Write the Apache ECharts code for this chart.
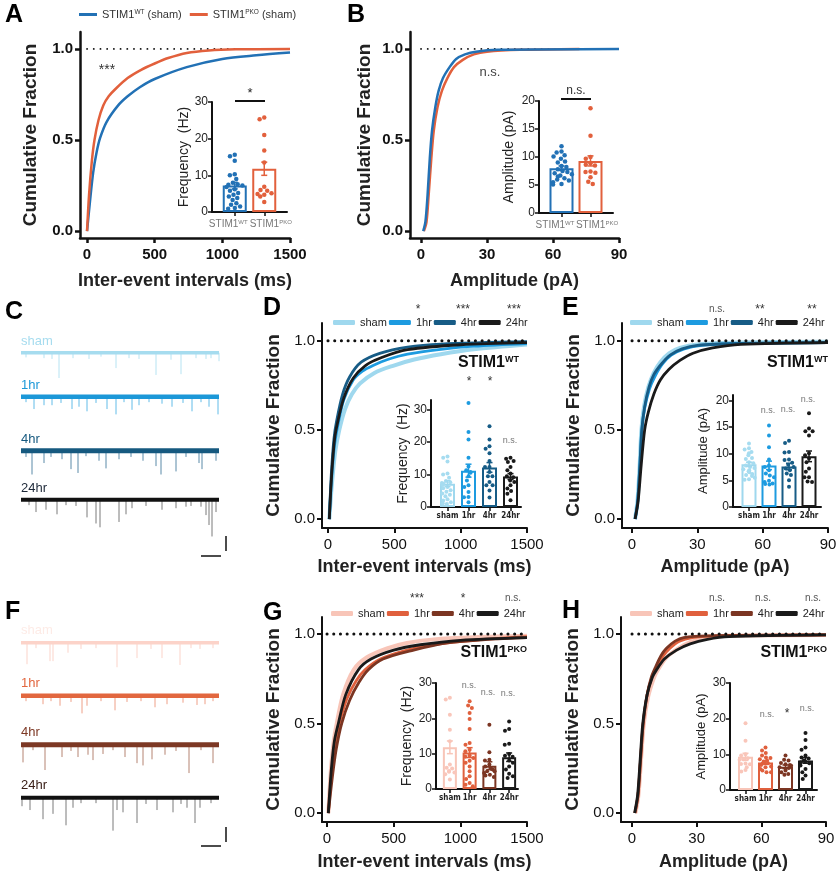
<!DOCTYPE html>
<html>
<head>
<meta charset="utf-8">
<script src="https://cdn.jsdelivr.net/npm/echarts@6/dist/echarts.min.js"></script>
<style>
html, body { margin: 0; padding: 0; background: #fff; }
#main { width: 837px; height: 874px; }
</style>
</head>
<body>
<div id="main"></div>
<script>
// ---- cumulative curves (x, fraction) ----
const A_WT_X = [0, 20, 45, 70, 96, 145, 230, 300, 390, 500, 737, 1000, 1250, 1500];
const A_WT_Y = [0, 0.15, 0.32, 0.43, 0.51, 0.6, 0.69, 0.74, 0.79, 0.835, 0.90, 0.945, 0.965, 0.98];
const A_PKO_X = [0, 15, 35, 55, 85, 120, 160, 210, 300, 400, 500, 600, 737, 900, 1100, 1500];
const A_PKO_Y = [0, 0.2, 0.38, 0.5, 0.61, 0.69, 0.74, 0.78, 0.84, 0.885, 0.92, 0.95, 0.978, 0.992, 0.998, 1.0];

const B_WT_X = [1, 2, 3, 4, 5, 6.5, 8, 10, 13, 16, 20, 25, 35, 90];
const B_WT_Y = [0, 0.05, 0.2, 0.4, 0.55, 0.68, 0.77, 0.84, 0.9, 0.945, 0.97, 0.985, 0.995, 1.0];
const B_PKO_X = [1.3, 2.5, 3.5, 4.7, 5.8, 7.5, 9.5, 12, 15, 19, 24, 30, 45, 72];
const B_PKO_Y = [0, 0.05, 0.2, 0.4, 0.55, 0.68, 0.77, 0.84, 0.9, 0.94, 0.97, 0.985, 0.995, 1.0];

const D_SHAM_X = [10, 30, 55, 85, 130, 180, 240, 350, 490, 650, 850, 1100, 1500];
const D_SHAM_Y = [0, 0.2, 0.38, 0.5, 0.62, 0.70, 0.76, 0.82, 0.86, 0.895, 0.925, 0.953, 0.98];
const D_1HR_X = [10, 30, 50, 75, 120, 190, 260, 340, 450, 600, 850, 1100, 1500];
const D_1HR_Y = [0, 0.25, 0.42, 0.53, 0.67, 0.78, 0.83, 0.862, 0.895, 0.925, 0.952, 0.97, 0.985];
const D_4HR_X = [10, 25, 45, 65, 110, 165, 250, 390, 600, 850, 1500];
const D_4HR_Y = [0, 0.25, 0.45, 0.55, 0.7, 0.8, 0.88, 0.93, 0.965, 0.982, 0.995];
const D_24HR_X = [10, 28, 50, 72, 120, 190, 280, 400, 600, 1000, 1500];
const D_24HR_Y = [0, 0.25, 0.45, 0.54, 0.68, 0.79, 0.86, 0.905, 0.95, 0.978, 0.99];

const E_SHAM_X = [1.4, 2.5, 3.5, 4.3, 5.5, 7.5, 10, 13, 17, 22, 30, 50, 90];
const E_SHAM_Y = [0, 0.1, 0.3, 0.5, 0.63, 0.74, 0.82, 0.88, 0.93, 0.96, 0.98, 0.99, 0.995];
const E_1HR_X = [1.5, 2.6, 3.6, 4.5, 5.8, 8, 10.5, 14, 18, 24, 32, 50, 90];
const E_1HR_Y = [0, 0.1, 0.3, 0.5, 0.62, 0.73, 0.8, 0.87, 0.92, 0.955, 0.975, 0.985, 0.99];
const E_4HR_X = [1.4, 2.6, 3.6, 4.5, 5.8, 7.8, 10, 13.5, 17.5, 23, 30, 50, 90];
const E_4HR_Y = [0, 0.1, 0.3, 0.5, 0.63, 0.74, 0.81, 0.87, 0.92, 0.955, 0.975, 0.985, 0.99];
const E_24HR_X = [1.4, 2.8, 4.2, 5.8, 7.5, 10, 13, 17, 22, 28, 37, 50, 90];
const E_24HR_Y = [0, 0.1, 0.3, 0.5, 0.6, 0.7, 0.78, 0.84, 0.89, 0.93, 0.96, 0.98, 0.99];

const G_SHAM_X = [10, 30, 50, 73, 120, 200, 300, 450, 600, 800, 1100, 1500];
const G_SHAM_Y = [0, 0.25, 0.4, 0.5, 0.66, 0.8, 0.87, 0.92, 0.95, 0.97, 0.982, 0.99];
const G_1HR_X = [10, 35, 60, 92, 150, 220, 285, 400, 600, 800, 1100, 1500];
const G_1HR_Y = [0, 0.22, 0.38, 0.5, 0.64, 0.74, 0.8, 0.86, 0.91, 0.94, 0.965, 0.985];
const G_4HR_X = [10, 40, 70, 110, 170, 240, 310, 420, 650, 900, 1200, 1500];
const G_4HR_Y = [0, 0.2, 0.36, 0.5, 0.63, 0.73, 0.8, 0.86, 0.91, 0.95, 0.97, 0.98];
const G_24HR_X = [10, 32, 55, 85, 140, 235, 330, 500, 700, 1000, 1500];
const G_24HR_Y = [0, 0.24, 0.4, 0.5, 0.66, 0.8, 0.86, 0.91, 0.94, 0.965, 0.98];

const H_SHAM_X = [1.6, 3, 4.2, 5.5, 7.5, 10, 12, 16, 21.5, 27, 33, 45, 90];
const H_SHAM_Y = [0, 0.1, 0.3, 0.5, 0.65, 0.75, 0.8, 0.87, 0.92, 0.955, 0.975, 0.99, 0.995];
const H_1HR_X = [1.4, 2.8, 4, 5.2, 7, 9, 10.7, 14, 17.6, 22, 28, 40, 90];
const H_1HR_Y = [0, 0.1, 0.3, 0.5, 0.66, 0.75, 0.8, 0.87, 0.92, 0.96, 0.98, 0.99, 0.995];
const H_4HR_X = [1.4, 2.8, 4, 5.2, 7, 9, 10.7, 13.5, 16, 20, 24, 35, 90];
const H_4HR_Y = [0, 0.1, 0.3, 0.5, 0.66, 0.76, 0.81, 0.88, 0.92, 0.96, 0.98, 0.99, 0.995];
const H_24HR_X = [1.2, 2.6, 3.8, 5, 7, 9.5, 11.4, 15, 20.7, 27, 35, 45, 90];
const H_24HR_Y = [0, 0.1, 0.3, 0.5, 0.66, 0.76, 0.8, 0.86, 0.91, 0.945, 0.97, 0.985, 0.995];

// ---- inset bar charts: per-cell values, means, SEM ----
const FREQ_WT = [15.6, 15.2, 14.0, 10.3, 10.0, 9.0, 8.0, 7.6, 7.4, 7.2, 6.8, 6.2, 5.8, 5.2, 4.7, 4.2, 3.8, 3.3, 2.4, 2.0, 1.5, 1.1, 0.9];
const FREQ_PKO = [25.8, 25.3, 21.0, 16.8, 13.5, 6.9, 6.0, 5.8, 5.1, 4.9, 4.7, 4.2, 2.7];
const AMP_WT = [11.9, 11.0, 10.8, 10.3, 10.1, 9.7, 9.2, 9.0, 8.4, 8.2, 7.8, 7.5, 7.3, 7.1, 6.9, 6.7, 6.5, 6.2, 6.0, 5.8, 5.5, 5.2, 5.1];
const AMP_PKO = [18.7, 13.8, 10.0, 9.7, 8.9, 8.6, 8.5, 7.4, 7.3, 7.2, 6.4, 5.6, 5.2];

const D_FREQ_1HR = [32.1, 23.1, 20.8, 15.2, 12.5, 11.3, 10.8, 10.6, 9.5, 8.2, 6.7, 6.2, 4.6, 3.1, 3.0, 1.5];
const D_FREQ_4HR = [24.9, 20.8, 18.7, 18.0, 16.6, 14.2, 12.3, 12.3, 10.8, 9.5, 9.5, 7.7, 6.7, 6.7, 5.1, 2.9];
const D_FREQ_24HR = [15.2, 14.9, 14.2, 13.9, 12.3, 11.3, 10.3, 9.5, 9.2, 8.2, 7.7, 6.7, 5.7, 4.9, 4.1, 2.1];
const E_AMP_1HR = [15.3, 13.4, 11.2, 8.9, 7.8, 7.5, 6.9, 6.3, 5.9, 5.6, 4.9, 4.7, 4.4, 4.3, 4.2];
const E_AMP_4HR = [12.4, 12.0, 10.3, 10.2, 8.9, 8.8, 8.3, 7.9, 7.5, 7.2, 6.9, 6.3, 6.0, 5.0, 3.8];
const E_AMP_24HR = [17.6, 14.7, 14.2, 14.2, 13.4, 10.1, 9.7, 9.1, 8.4, 7.2, 6.6, 5.6, 5.6, 4.8, 4.7];
const G_FREQ_1HR = [24.8, 23.6, 22.9, 21.5, 19.8, 17.0, 13.0, 12.5, 11.1, 10.7, 9.5, 9.1, 8.8, 8.0, 7.4, 6.4, 5.0, 3.6, 2.8, 1.7, 1.2, 0.8];
const G_FREQ_4HR = [18.2, 10.4, 8.3, 8.1, 6.9, 6.4, 5.7, 5.5, 5.0, 5.0, 4.5, 4.0, 3.8, 3.4];
const G_FREQ_24HR = [19.1, 17.0, 16.5, 12.8, 12.5, 9.9, 9.4, 9.1, 8.1, 7.4, 6.4, 5.5, 4.3, 3.6, 3.1];
const H_AMP_1HR = [11.9, 11.1, 10.4, 9.7, 9.1, 9.0, 8.6, 8.3, 8.0, 7.5, 7.4, 7.0, 6.6, 6.4, 5.9, 5.5, 5.0, 5.0];
const H_AMP_4HR = [9.7, 8.5, 8.3, 7.6, 7.2, 7.0, 6.8, 6.4, 6.2, 5.5, 5.0, 4.5, 4.3];
const H_AMP_24HR = [16.0, 14.0, 11.9, 11.3, 9.7, 9.1, 8.8, 8.3, 8.0, 7.8, 7.5, 6.9, 5.9, 5.0, 4.1, 3.1];

const A_MEAN = [7.2, 11.8], A_SEM = [0.9, 1.8];
const B_MEAN = [8.0, 9.3], B_SEM = [0.4, 0.9];
const D_MEAN = [7.2, 11.2, 12.2, 9.4], D_SEM = [0.9, 2.0, 1.5, 0.9];
const E_MEAN = [8.0, 7.8, 7.6, 9.5], E_SEM = [0.4, 0.8, 0.6, 1.0];
const G_MEAN = [11.8, 10.3, 6.6, 9.0], G_SEM = [1.8, 1.4, 1.1, 1.2];
const H_MEAN = [9.3, 7.7, 6.5, 8.3], H_SEM = [1.0, 0.5, 0.5, 0.8];

const GROUPS = ['sham', '1hr', '4hr', '24hr'];
const GENOTYPES = ['WT', 'PKO'];

// ---- example traces: events as [time s, amplitude pA] ----
const C_SHAM = [[0.25,6],[1.15,7],[1.55,8],[1.9,33],[2.6,7],[3.4,8],[4.0,5],[4.75,20],[5.4,7],[5.9,8],[6.75,29],[7.5,9],[8.0,28],[8.75,7],[9.25,8],[9.5,7],[9.9,11]];
const C_1HR = [[0.25,7],[0.65,16],[1.15,11],[1.55,11],[2.0,8],[2.55,16],[2.9,13],[3.3,19],[3.75,8],[4.3,16],[4.75,23],[5.15,7],[5.55,17],[5.9,11],[6.4,7],[7.05,9],[7.55,13],[8.1,8],[8.55,19],[9.0,7],[9.4,13],[9.85,23]];
const C_4HR = [[0.25,8],[0.55,31],[1.15,16],[1.5,8],[2.05,11],[2.5,24],[2.85,29],[3.25,7],[3.9,13],[4.25,23],[4.9,11],[5.5,8],[6.1,13],[6.75,20],[7.0,31],[7.75,27],[8.25,8],[8.9,16],[9.05,24],[9.75,13]];
const C_24HR = [[0.4,7],[0.75,16],[1.25,13],[1.8,19],[2.25,7],[2.75,8],[3.3,23],[3.75,31],[3.95,36],[4.9,29],[5.25,19],[5.55,11],[6.25,8],[7.05,13],[7.75,11],[8.25,9],[8.5,8],[9.0,9],[9.25,20],[9.4,33],[9.55,48],[9.75,16]];
const F_SHAM = [[0.3,28],[0.75,7],[1.45,24],[1.6,24],[2.35,13],[3.0,8],[3.75,7],[4.8,32],[5.8,20],[6.5,8],[7.05,20],[7.95,29],[8.5,7],[8.95,8],[9.6,7]];
const F_1HR = [[0.25,7],[1.1,11],[1.5,7],[1.95,13],[2.5,8],[3.05,23],[3.3,13],[4.0,7],[4.7,19],[5.3,8],[6.0,7],[6.7,15],[7.3,11],[8.1,9],[8.8,12],[9.2,11],[9.6,7]];
const F_4HR = [[0.1,23],[0.6,7],[1.2,33],[2.05,16],[2.5,8],[2.85,16],[3.35,13],[3.6,20],[4.1,12],[4.6,7],[5.2,16],[5.8,24],[6.1,27],[6.55,19],[7.2,13],[7.75,8],[8.4,37],[9.0,7],[9.6,24]];
const F_24HR = [[0.05,11],[0.45,16],[1.1,28],[1.6,21],[2.25,36],[2.6,13],[3.0,7],[3.75,7],[4.6,43],[4.8,16],[5.1,19],[5.8,33],[6.25,8],[6.8,16],[7.6,19],[8.0,8],[8.3,13],[8.7,33],[8.95,13],[9.5,7]];

const CDF_TICKS = [0, 0.5, 1];
const MS_TICKS = [0, 500, 1000, 1500];
const PA_TICKS = [0, 30, 60, 90];

const FONT = '"Liberation Sans", Arial, Helvetica, sans-serif';
const NARROW = '"DejaVu Sans Condensed", "Liberation Sans Narrow", "Liberation Sans", sans-serif';
const WT_BLUE = '#2271b5', PKO_RED = '#e2603c';
const WT_COLORS = ['#9fd8ee', '#1d9be0', '#175c86', '#1a1a1a'];
const PKO_COLORS = ['#f8c5b8', '#e0603d', '#7b3522', '#1a1a1a'];

const grid = [], xAxis = [], yAxis = [], series = [], legend = [], graphic = [];

function addGrid(box) {
  grid.push({ left: box.left, top: box.top, width: box.width, height: box.height, containLabel: false, outerBoundsMode: 'none' });
  return grid.length - 1;
}

function zip(xs, ys) { return xs.map((x, i) => [x, ys[i]]); }

function mainPanel(p) {
  const gi = addGrid({ left: p.left, top: p.top, width: p.right - p.left, height: p.bottom - p.top });
  const lab = { fontFamily: FONT, fontSize: 15, color: '#111', fontWeight: p.bold ? 'bold' : 'normal' };
  const line = { show: true, onZero: false, lineStyle: { color: '#111', width: p.lw } };
  const tick = { show: true, length: 5, lineStyle: { color: '#111', width: p.lw } };
  xAxis.push({
    gridIndex: gi, type: 'value', min: p.xMin, max: p.xMax, axisLine: line,
    axisTick: Object.assign({ customValues: p.xTicks }, tick),
    axisLabel: Object.assign({ customValues: p.xTicks, margin: 9, formatter: v => String(v) }, lab),
    splitLine: { show: false },
    name: p.xName, nameLocation: 'middle', nameGap: p.xGap,
    nameTextStyle: { fontFamily: FONT, fontSize: 18, fontWeight: 'bold', color: '#222' }
  });
  yAxis.push({
    gridIndex: gi, type: 'value', min: p.yMin, max: p.yMax, axisLine: line,
    axisTick: Object.assign({ customValues: CDF_TICKS }, tick),
    axisLabel: Object.assign({ customValues: CDF_TICKS, margin: 7, formatter: v => v.toFixed(1) }, lab),
    splitLine: { show: false },
    name: 'Cumulative Fraction', nameLocation: 'middle', nameGap: p.yGap, nameRotate: 90,
    nameTextStyle: { fontFamily: FONT, fontSize: 19, fontWeight: 'bold', color: '#222' }
  });
  const ai = xAxis.length - 1;
  series.push({
    type: 'line', xAxisIndex: ai, yAxisIndex: ai, silent: true, showSymbol: false,
    data: [[0, 1], [p.xTicks[p.xTicks.length - 1], 1]],
    lineStyle: { color: '#111', width: p.dotW, type: [0.1, 6.6], cap: 'round' }, z: p.dotZ
  });
  p.curves.forEach(c => series.push({
    name: c.name, type: 'line', xAxisIndex: ai, yAxisIndex: ai, data: zip(c.x, c.y),
    smooth: 0.3, showSymbol: false, silent: true,
    lineStyle: { color: c.color, width: c.width, join: 'round' }, itemStyle: { color: c.color }, z: 3
  }));
}

function inset(p) {
  const h = p.bottom - p.top;
  const fi = addGrid({ left: p.left, top: p.top, width: p.right - p.left, height: h });
  const axLine = { show: true, onZero: false, lineStyle: { color: '#111', width: 2 } };
  xAxis.push({ gridIndex: fi, type: 'value', min: 0, max: 1, axisLine: axLine,
    axisTick: { show: false }, axisLabel: { show: false }, splitLine: { show: false } });
  yAxis.push({
    gridIndex: fi, type: 'value', min: 0, max: p.yMax, axisLine: axLine,
    axisTick: { show: true, customValues: p.yTicks, length: 4, lineStyle: { color: '#111', width: 1.5 } },
    axisLabel: { customValues: p.yTicks, margin: 4, fontFamily: FONT, fontSize: 12, color: '#222' },
    splitLine: { show: false },
    name: p.yName, nameLocation: 'middle', nameGap: p.nameGap, nameRotate: 90,
    nameTextStyle: { fontFamily: FONT, fontSize: p.nameSize, color: '#222' }
  });
  const di = addGrid({ left: p.dataLeft, top: p.top, width: p.dataWidth, height: h });
  xAxis.push({
    gridIndex: di, type: 'category', data: p.cats,
    axisLine: { show: false },
    axisTick: { show: true, alignWithLabel: true, length: 4, lineStyle: { color: '#111', width: 1.5 } },
    axisLabel: Object.assign({ interval: 0, margin: p.catMargin }, p.catLabel),
    jitter: p.barWidth - 3, jitterOverlap: false, jitterMargin: 0.5
  });
  yAxis.push({ gridIndex: di, type: 'value', min: 0, max: p.yMax, show: false });
  const ai = xAxis.length - 1;
  series.push({
    type: 'bar', xAxisIndex: ai, yAxisIndex: ai, barWidth: p.barWidth, silent: true, z: 2,
    data: p.means.map((m, i) => ({ value: m, itemStyle: { color: '#fff', borderColor: p.colors[i], borderWidth: 2 } }))
  });
  p.dots.forEach((arr, i) => series.push({
    type: 'scatter', xAxisIndex: ai, yAxisIndex: ai, silent: true, z: 3,
    data: arr.map(v => [i, v]), symbolSize: p.dotSize,
    itemStyle: { color: p.dotColors[i], opacity: 1 }
  }));
  series.push({
    type: 'custom', xAxisIndex: ai, yAxisIndex: ai, silent: true, z: 4,
    data: p.means.map((m, i) => [i, m, p.sems[i]]),
    renderItem: (params, api) => {
      const col = p.colors[params.dataIndex];
      const hi = api.coord([api.value(0), api.value(1) + api.value(2)]);
      const lo = api.coord([api.value(0), api.value(1) - api.value(2)]);
      const st = { stroke: col, lineWidth: 1.5 };
      return { type: 'group', children: [
        { type: 'line', shape: { x1: hi[0], y1: hi[1], x2: lo[0], y2: lo[1] }, style: st },
        { type: 'line', shape: { x1: hi[0] - 3, y1: hi[1], x2: hi[0] + 3, y2: hi[1] }, style: st },
        { type: 'line', shape: { x1: lo[0] - 3, y1: lo[1], x2: lo[0] + 3, y2: lo[1] }, style: st }
      ] };
    }
  });
}

function trace(left, base, events, color, eventColor, width) {
  const gi = addGrid({ left: left, top: base - 4, width: 198, height: 42 });
  xAxis.push({ gridIndex: gi, type: 'value', min: 0, max: 9.9, show: false });
  yAxis.push({ gridIndex: gi, type: 'value', min: -50, max: 5, show: false });
  const ai = xAxis.length - 1;
  series.push({
    type: 'custom', xAxisIndex: ai, yAxisIndex: ai, silent: true, z: 2, data: events,
    renderItem: (params, api) => {
      const a = api.coord([api.value(0), 0]);
      const b = api.coord([api.value(0), -api.value(1)]);
      return { type: 'line', shape: { x1: a[0], y1: a[1], x2: b[0], y2: b[1] }, style: { stroke: eventColor, lineWidth: 1 } };
    }
  });
  series.push({
    type: 'line', xAxisIndex: ai, yAxisIndex: ai, silent: true, showSymbol: false, z: 3,
    data: [[0, 0], [9.9, 0]], lineStyle: { color: color, width: width }
  });
}

function txt(x, y, text, style) {
  graphic.push({ type: 'text', x: x, y: y, silent: true, z: 10,
    style: Object.assign({ text: text, fontFamily: FONT, fontSize: 12, fill: '#222', align: 'center', verticalAlign: 'middle' }, style) });
}
function seg(x1, y1, x2, y2, w) {
  graphic.push({ type: 'line', silent: true, z: 10, shape: { x1, y1, x2, y2 }, style: { stroke: '#111', lineWidth: w || 1.5 } });
}

// ---------- panels A and B ----------
mainPanel({ left: 80, right: 290, top: 32, bottom: 238, xMin: -52, xMax: 1500, xTicks: MS_TICKS,
  yMin: -0.038, yMax: 1.093, bold: true, lw: 2.5, xGap: 34, yGap: 40, dotW: 1.8, dotZ: 2,
  xName: 'Inter-event intervals (ms)',
  curves: [
    { name: 'WT sham', x: A_WT_X, y: A_WT_Y, color: WT_BLUE, width: 2.5 },
    { name: 'PKO sham', x: A_PKO_X, y: A_PKO_Y, color: PKO_RED, width: 2.5 }
  ] });
mainPanel({ left: 410, right: 619, top: 32, bottom: 238, xMin: -5, xMax: 90, xTicks: PA_TICKS,
  yMin: -0.038, yMax: 1.093, bold: true, lw: 2.5, xGap: 34, yGap: 36, dotW: 1.8, dotZ: 2,
  xName: 'Amplitude (pA)',
  curves: [
    { name: 'PKO sham', x: B_PKO_X, y: B_PKO_Y, color: PKO_RED, width: 2.5 },
    { name: 'WT sham', x: B_WT_X, y: B_WT_Y, color: WT_BLUE, width: 2.5 }
  ] });

const stimLabel = {
  fontFamily: FONT, fontSize: 10, color: '#777',
  formatter: (v, i) => i === 0 ? '{t|STIM1}{w|' + v + '}' : '{v|STIM1}{s|' + v + '}',
  rich: {
    t: { fontFamily: FONT, fontSize: 10, color: '#777' },
    v: { fontFamily: FONT, fontSize: 10, color: '#777', padding: [0, 0, 0, 13] },
    s: { fontFamily: FONT, fontSize: 6, color: '#777', verticalAlign: 'top', lineHeight: 8 },
    w: { fontFamily: FONT, fontSize: 6, color: '#777', verticalAlign: 'top', lineHeight: 8, padding: [0, 13, 0, 0] }
  }
};
inset({ left: 212, right: 287, top: 102, bottom: 212, yMax: 30, yTicks: [0, 10, 20, 30],
  dataLeft: 220, dataWidth: 59, barWidth: 24, cats: GENOTYPES, catLabel: stimLabel, catMargin: 7,
  yName: 'Frequency  (Hz)', nameGap: 20, nameSize: 14,
  means: A_MEAN, sems: A_SEM, dots: [FREQ_WT, FREQ_PKO], colors: [WT_BLUE, PKO_RED], dotColors: [WT_BLUE, PKO_RED], dotSize: 4.5 });
inset({ left: 539, right: 613, top: 101, bottom: 213, yMax: 20, yTicks: [0, 5, 10, 15, 20],
  dataLeft: 547, dataWidth: 58, barWidth: 24, cats: GENOTYPES, catLabel: stimLabel, catMargin: 7,
  yName: 'Amplitude (pA)', nameGap: 23, nameSize: 14,
  means: B_MEAN, sems: B_SEM, dots: [AMP_WT, AMP_PKO], colors: [WT_BLUE, PKO_RED], dotColors: [WT_BLUE, PKO_RED], dotSize: 4.5 });

legend.push({
  left: 79, top: 9, padding: 0, selectedMode: false, icon: 'rect', itemWidth: 18, itemHeight: 3, itemGap: 8,
  data: ['WT sham', 'PKO sham'],
  formatter: n => '{t|STIM1}{s|' + n.split(' ')[0] + '}{t| (sham)}',
  textStyle: { fontFamily: FONT, fontSize: 11, color: '#333',
    rich: { t: { fontFamily: FONT, fontSize: 11, color: '#333' },
            s: { fontFamily: FONT, fontSize: 6.5, color: '#333', verticalAlign: 'top', lineHeight: 8 } } }
});

// ---------- panels D, E, G, H ----------
function timeCurves(prefix, xs, ys, colors) {
  return GROUPS.map((g, i) => ({ name: prefix + ' ' + g, x: xs[i], y: ys[i], color: colors[i], width: i === 0 ? 4 : 2.8 }));
}
mainPanel({ left: 322, right: 527, top: 323, bottom: 528, xMin: -45, xMax: 1500, xTicks: MS_TICKS,
  yMin: -0.05, yMax: 1.1, bold: false, lw: 2, xGap: 30, yGap: 39, dotW: 3, dotZ: 5,
  xName: 'Inter-event intervals (ms)',
  curves: timeCurves('D', [D_SHAM_X, D_1HR_X, D_4HR_X, D_24HR_X], [D_SHAM_Y, D_1HR_Y, D_4HR_Y, D_24HR_Y], WT_COLORS) });
mainPanel({ left: 622, right: 828, top: 323, bottom: 528, xMin: -4.6, xMax: 90, xTicks: PA_TICKS,
  yMin: -0.05, yMax: 1.1, bold: false, lw: 2, xGap: 30, yGap: 39, dotW: 3, dotZ: 5,
  xName: 'Amplitude (pA)',
  curves: timeCurves('E', [E_SHAM_X, E_1HR_X, E_4HR_X, E_24HR_X], [E_SHAM_Y, E_1HR_Y, E_4HR_Y, E_24HR_Y], WT_COLORS) });
mainPanel({ left: 322, right: 527, top: 617, bottom: 822, xMin: -37.5, xMax: 1500, xTicks: MS_TICKS,
  yMin: -0.05, yMax: 1.095, bold: false, lw: 2, xGap: 31, yGap: 39, dotW: 3, dotZ: 5,
  xName: 'Inter-event intervals (ms)',
  curves: timeCurves('G', [G_SHAM_X, G_1HR_X, G_4HR_X, G_24HR_X], [G_SHAM_Y, G_1HR_Y, G_4HR_Y, G_24HR_Y], PKO_COLORS) });
mainPanel({ left: 621, right: 826, top: 617, bottom: 822, xMin: -5.1, xMax: 90, xTicks: PA_TICKS,
  yMin: -0.05, yMax: 1.095, bold: false, lw: 2, xGap: 31, yGap: 39, dotW: 3, dotZ: 5,
  xName: 'Amplitude (pA)',
  curves: timeCurves('H', [H_SHAM_X, H_1HR_X, H_4HR_X, H_24HR_X], [H_SHAM_Y, H_1HR_Y, H_4HR_Y, H_24HR_Y], PKO_COLORS) });

const groupLabel = { fontFamily: NARROW, fontSize: 8, fontWeight: 'bold', color: '#222' };
const dotsWT = ['#a6dcf0', '#1d9be0', '#175c86', '#1a1a1a'];
const dotsPKO = ['#f9c6ba', '#e0603d', '#7b3522', '#1a1a1a'];
inset({ left: 431, right: 521, top: 400, bottom: 507, yMax: 33, yTicks: [0, 10, 20, 30],
  dataLeft: 437, dataWidth: 84, barWidth: 15, cats: GROUPS, catLabel: groupLabel, catMargin: 5,
  yName: 'Frequency  (Hz)', nameGap: 20, nameSize: 14,
  means: D_MEAN, sems: D_SEM, dots: [FREQ_WT, D_FREQ_1HR, D_FREQ_4HR, D_FREQ_24HR], colors: WT_COLORS, dotColors: dotsWT, dotSize: 4 });
inset({ left: 733, right: 821, top: 395, bottom: 507, yMax: 21, yTicks: [0, 5, 10, 15, 20],
  dataLeft: 739, dataWidth: 80, barWidth: 15, cats: GROUPS, catLabel: groupLabel, catMargin: 5,
  yName: 'Amplitude (pA)', nameGap: 23, nameSize: 13,
  means: E_MEAN, sems: E_SEM, dots: [AMP_WT, E_AMP_1HR, E_AMP_4HR, E_AMP_24HR], colors: WT_COLORS, dotColors: dotsWT, dotSize: 4 });
inset({ left: 436, right: 518, top: 683, bottom: 789, yMax: 30, yTicks: [0, 10, 20, 30],
  dataLeft: 440, dataWidth: 79, barWidth: 14, cats: GROUPS, catLabel: groupLabel, catMargin: 5,
  yName: 'Frequency  (Hz)', nameGap: 22, nameSize: 14,
  means: G_MEAN, sems: G_SEM, dots: [FREQ_PKO, G_FREQ_1HR, G_FREQ_4HR, G_FREQ_24HR], colors: PKO_COLORS, dotColors: dotsPKO, dotSize: 4 });
inset({ left: 730, right: 817, top: 683, bottom: 790, yMax: 30, yTicks: [0, 10, 20, 30],
  dataLeft: 735.5, dataWidth: 80, barWidth: 15, cats: GROUPS, catLabel: groupLabel, catMargin: 5,
  yName: 'Amplitude (pA)', nameGap: 22, nameSize: 13,
  means: H_MEAN, sems: H_SEM, dots: [AMP_PKO, H_AMP_1HR, H_AMP_4HR, H_AMP_24HR], colors: PKO_COLORS, dotColors: dotsPKO, dotSize: 4 });

function groupLegend(prefix, left, top) {
  legend.push({
    left: left, top: top, padding: 0, width: 205, selectedMode: false, icon: 'roundRect',
    itemWidth: 22, itemHeight: 5, itemGap: 2,
    data: GROUPS.map(g => prefix + ' ' + g), formatter: n => n.split(' ')[1],
    textStyle: { fontFamily: FONT, fontSize: 11, color: '#222' }
  });
}
groupLegend('D', 333, 317);
groupLegend('E', 630, 317);
groupLegend('G', 331, 608);
groupLegend('H', 630, 608);

// ---------- traces C and F ----------
const C_COLORS = ['#a6dcef', '#1c98d8', '#16597f', '#111111'];
const C_EVENT = ['#b6e3f2', '#63bce8', '#5a8aa8', '#7a7a7a'];
const C_TEXT = ['#a6dcef', '#1c98d8', '#16597f', '#1d2838'];
const F_COLORS = ['#fcd3c9', '#e2673f', '#7d3824', '#111111'];
const F_EVENT = ['#fbd3c9', '#eea088', '#b58472', '#7a7a7a'];
const F_TEXT = ['#fdebe6', '#e2673f', '#7d3824', '#3a2018'];
const TRACE_W = [3.5, 4.5, 5, 4];
const C_BASE = [353, 397, 451, 500], F_BASE = [643, 696, 745, 798];
[C_SHAM, C_1HR, C_4HR, C_24HR].forEach((ev, i) => {
  trace(21, C_BASE[i], ev, C_COLORS[i], C_EVENT[i], TRACE_W[i]);
  txt(21, C_BASE[i] - 12, GROUPS[i], { align: 'left', fontSize: 13, fill: C_TEXT[i] });
});
[F_SHAM, F_1HR, F_4HR, F_24HR].forEach((ev, i) => {
  trace(21, F_BASE[i], ev, F_COLORS[i], F_EVENT[i], TRACE_W[i]);
  txt(21, F_BASE[i] - 13, GROUPS[i], { align: 'left', fontSize: 13, fill: F_TEXT[i] });
});
seg(201, 556, 221, 556); seg(226, 536, 226, 551);
seg(201, 846, 221, 846); seg(226, 827, 226, 842);

// ---------- panel letters and annotations ----------
const letter = { fontSize: 25, fontWeight: 'bold', fill: '#000', align: 'left' };
txt(5, 15, 'A', letter); txt(347, 15, 'B', letter);
txt(5, 312, 'C', letter); txt(263, 308, 'D', letter); txt(562, 308, 'E', letter);
txt(5, 612, 'F', letter); txt(263, 613, 'G', letter); txt(562, 611, 'H', letter);

txt(107, 70, '***', { fontSize: 14, fill: '#333' });
txt(490, 72, 'n.s.', { fontSize: 13, fill: '#444' });
seg(235, 101, 265, 101, 2); txt(250, 93, '*', { fontSize: 13 });
seg(561, 99, 591, 99, 2); txt(576, 91, 'n.s.', { fontSize: 12, fill: '#333' });

const stim = (x, y, sup) => txt(x, y, '{t|STIM1}{s|' + sup + '}', { align: 'right',
  rich: { t: { fontFamily: FONT, fontSize: 16, fontWeight: 'bold', fill: '#111' },
          s: { fontFamily: FONT, fontSize: 9, fontWeight: 'bold', fill: '#111', verticalAlign: 'top', lineHeight: 10 } } });
stim(519, 363, 'WT'); stim(828, 363, 'WT'); stim(527, 653, 'PKO'); stim(827, 653, 'PKO');

const star = { fontSize: 12, fill: '#333' }, ns = { fontSize: 10, fill: '#555' };
txt(418, 310, '*', star); txt(463, 310, '***', star); txt(514, 310, '***', star);
txt(717, 309, 'n.s.', ns); txt(760, 310, '**', star); txt(812, 310, '**', star);
txt(417, 599, '***', star); txt(463, 599, '*', star); txt(513, 598, 'n.s.', ns);
txt(717, 598, 'n.s.', ns); txt(763, 598, 'n.s.', ns); txt(813, 598, 'n.s.', ns);

const nsSmall = { fontSize: 9, fill: '#777' };
txt(469, 382, '*', star); txt(490, 382, '*', star); txt(510, 441, 'n.s.', nsSmall);
txt(768, 411, 'n.s.', nsSmall); txt(788, 410, 'n.s.', nsSmall); txt(808, 400, 'n.s.', nsSmall);
txt(469, 686, 'n.s.', nsSmall); txt(488, 693, 'n.s.', nsSmall); txt(508, 694, 'n.s.', nsSmall);
txt(767, 715, 'n.s.', nsSmall); txt(787, 714, '*', star); txt(807, 709, 'n.s.', nsSmall);

const chart = echarts.init(document.getElementById('main'), null, { renderer: 'canvas' });
chart.setOption({
  animation: false,
  backgroundColor: '#fff',
  textStyle: { fontFamily: FONT },
  grid, xAxis, yAxis, series, legend, graphic
});
</script>
</body>
</html>
